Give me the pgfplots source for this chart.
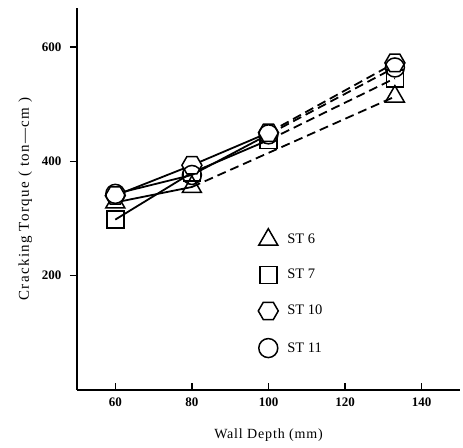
\documentclass[border=0pt]{standalone}
\usepackage{fontspec}
\setmainfont{Liberation Serif}
\usepackage{pgfplots}
\pgfplotsset{compat=1.18}

% hexagon mark (pointy left/right)
\pgfdeclareplotmark{hexagon}{%
  \pgfpathmoveto{\pgfpointpolar{0}{\pgfplotmarksize}}%
  \pgfpathlineto{\pgfpointpolar{60}{\pgfplotmarksize}}%
  \pgfpathlineto{\pgfpointpolar{120}{\pgfplotmarksize}}%
  \pgfpathlineto{\pgfpointpolar{180}{\pgfplotmarksize}}%
  \pgfpathlineto{\pgfpointpolar{240}{\pgfplotmarksize}}%
  \pgfpathlineto{\pgfpointpolar{300}{\pgfplotmarksize}}%
  \pgfpathclose
  \pgfusepathqfillstroke}

\begin{document}
\begin{tikzpicture}
\begin{axis}[
    scale only axis, width=383pt, height=382pt,
    xmin=50, xmax=150, ymin=0, ymax=668,
    axis x line=bottom, axis y line=left,
    axis line style={-, line width=1.5pt},
    xtick={60,80,...,140}, ytick={200,400,600},
    xtick align=inside, ytick align=outside,
    major tick length=7pt,
    tick style={line width=1.3pt, black},
    /pgf/number format/assume math mode=true,
    tick label style={font=\fontsize{13}{15}\selectfont\bfseries},
    yticklabel style={xshift=-5pt},
    xticklabel style={yshift=-4pt},
    xlabel={Wall Depth (mm)}, ylabel={Cracking Torque ( ton---cm )},
    xlabel style={yshift=-16pt, font=\fontsize{14}{16}\selectfont\addfontfeature{LetterSpace=6}},
    ylabel style={yshift=3pt, font=\fontsize{15}{17}\selectfont\addfontfeature{LetterSpace=9}},
    every axis plot/.append style={black, line width=1.8pt,
        mark options={fill=white, solid, line width=1.5pt}},
    legend style={draw=none, fill=none, at={(0.465,0.428)}, anchor=north west,
        font=\fontsize{14.5}{16}\selectfont, row sep=19pt, column sep=7pt},
    legend cell align=left,
]
% ST 6
\addplot[forget plot, mark=none] coordinates {(60,328) (80,355)};
\addplot[forget plot, mark=none, dash pattern=on 9pt off 5pt] coordinates {(80,355) (133,513)};
% ST 7
\addplot[forget plot, mark=none] coordinates {(60,298) (80,380) (100,437)};
\addplot[forget plot, mark=none, dash pattern=on 9pt off 5pt] coordinates {(100,437) (133,545)};
% ST 10
\addplot[forget plot, mark=none] coordinates {(60,340) (80,393) (100,450)};
\addplot[forget plot, mark=none, dash pattern=on 9pt off 5pt] coordinates {(100,450) (133,572)};
% ST 11
\addplot[forget plot, mark=none] coordinates {(60,343) (80,376) (100,447)};
\addplot[forget plot, mark=none, dash pattern=on 9pt off 5pt] coordinates {(100,447) (133,564)};
% markers
\addplot[only marks, mark=triangle, mark size=11pt] coordinates {(60,328) (80,355) (133,513)};
\addplot[only marks, mark=square, mark size=8.5pt] coordinates {(60,298) (80,380) (100,437) (133,545)};
\addplot[only marks, mark=hexagon, mark size=10pt] coordinates {(60,340) (80,393) (100,450) (133,572)};
\addplot[only marks, mark=o, mark size=9.5pt] coordinates {(60,343) (80,376) (100,447) (133,564)};
\legend{ST 6, ST 7, ST 10, ST 11}
\end{axis}
\pgfresetboundingbox
\path (current axis.south west) +(-77pt,-57pt) (current axis.north east) +(3pt,8pt);
\end{tikzpicture}
\end{document}
